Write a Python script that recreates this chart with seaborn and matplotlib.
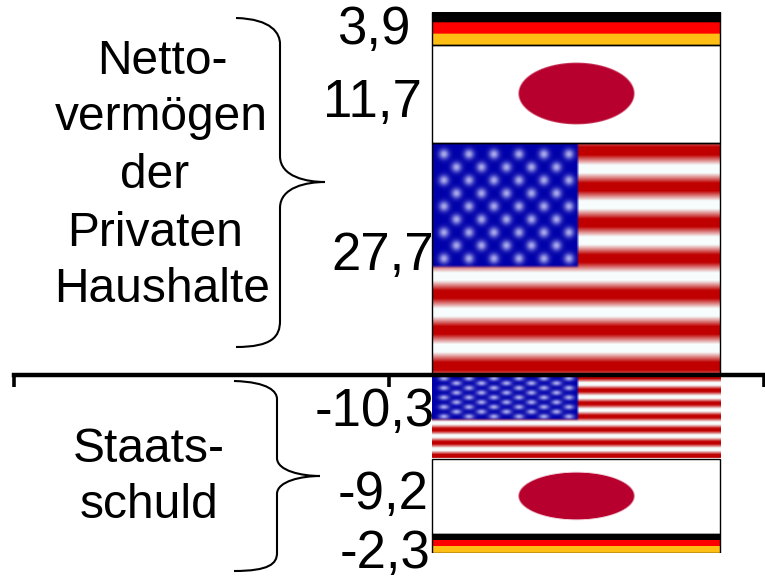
import numpy as np
import matplotlib
matplotlib.use("Agg")
import matplotlib.pyplot as plt
from matplotlib.path import Path
from matplotlib.patches import PathPatch
import seaborn as sns

# --- data ---
slots = ["", "Flaggen"]
assets_countries = ["USA", "Japan", "Deutschland"]   # stacked from the zero line upwards
assets_values = [27.7, 11.7, 3.9]
debt_countries = ["USA", "Japan", "Deutschland"]     # stacked from the zero line downwards
debt_values = [-10.3, -9.2, -2.3]
assets_labels = ["27,7", "11,7", "3,9"]
debt_labels = ["-10,3", "-9,2", "-2,3"]
assets_title = ["Netto-", "vermögen", "der", "Privaten", "Haushalte"]
debt_title = ["Staats-", "schuld"]

# --- style ---
W, H = 765, 578
sns.set_theme(style="white")
plt.rcParams["font.family"] = ["Liberation Sans", "DejaVu Sans"]
FS = 38
TITLE_FS = 34.5
RED, BLUE, STAR = np.array([192, 0, 0]) / 255, np.array([0, 0, 170]) / 255, np.array([170, 170, 235]) / 255
WHITE = np.array([247, 252, 252]) / 255


def flag_usa(h, w, soft, star_sigma):
    y, x = np.mgrid[0:h, 0:w]
    t, u = (y + .5) / h, (x + .5) / w
    pos = t * 13
    dist = np.abs(pos - np.round(pos))
    edge = np.clip(dist * h / 13 / soft, 0, 1)
    is_red = np.floor(pos).astype(int) % 2 == 0
    mix = np.where(is_red, .5 + .5 * edge, .5 - .5 * edge)[..., None]
    img = mix * RED + (1 - mix) * WHITE
    cw, ch = 0.505, 0.535
    glow = np.zeros((h, w))
    for r in range(9):
        cols = 6 if r % 2 == 0 else 5
        for c in range(cols):
            cx = 0.0415 + 0.0865 * c + (0.0433 if r % 2 else 0)
            cy = 0.052 + 0.056 * r
            glow += np.exp(-(((u - cx) * w / 5.0) ** 2 + ((t - cy) * h / star_sigma) ** 2))
    glow = np.clip(glow, 0, 1)[..., None]
    canton = BLUE * (1 - glow) + STAR * glow
    m = (np.clip((cw - u) * w / 3 + .5, 0, 1) * np.clip((ch - t) * h / 3 + .5, 0, 1))[..., None]
    return m * canton + (1 - m) * img


def flag_japan(h, w, ry):
    y, x = np.mgrid[0:h, 0:w]
    d = np.sqrt((((x + .5) - w / 2) / (.2 * w)) ** 2 + (((y + .5) - h / 2) / (ry * h)) ** 2)
    m = np.clip((1 - d) * 30 + .5, 0, 1)[..., None]
    return m * (np.array([184, 0, 46]) / 255) + (1 - m) * np.ones(3)


def flag_germany(h, w):
    img = np.zeros((h, w, 3))
    img[h // 3:2 * h // 3] = [1, 0, 0]
    img[2 * h // 3:] = np.array([255, 190, 20]) / 255
    return img


def make_flag(name, h, w, lower):
    if name == "USA":
        return flag_usa(h, w, 2.0 if lower else 5.0, 2.6 if lower else 5.0)
    if name == "Japan":
        return flag_japan(h, w, .31)
    return flag_germany(h, w)


fig = plt.figure(figsize=(W / 100, H / 100), dpi=100)
fig.patch.set_facecolor("white")


def px_axes(x0, y0, x1, y1):
    return fig.add_axes([x0 / W, 1 - y1 / H, (x1 - x0) / W, (y1 - y0) / H])


ax_top = px_axes(14, 12, 763.5, 375)
ax_bot = px_axes(14, 375, 763.5, 553)


def stack(ax, countries, values, labels, offsets, lower):
    cum = 0.0
    for name, v, lab, off in zip(countries, values, labels, offsets):
        n = len(ax.patches)
        sns.barplot(x=[slots[1]], y=[v], order=slots, bottom=cum, width=0.77,
                    color="#888888", ax=ax, saturation=1, errorbar=None)
        p = ax.patches[n]
        bb_x0, bb_w = p.get_x(), p.get_width()
        y0, y1 = sorted([cum, cum + v])
        hpx = max(8, int(abs(v) * 8.4))
        ax.imshow(make_flag(name, hpx, 289, lower),
                  extent=(bb_x0, bb_x0 + bb_w, y0, y1), origin="upper",
                  aspect="auto", interpolation="bilinear", zorder=2)
        p.set_facecolor("none")
        p.set_edgecolor("black" if not (lower and name == "USA") else "none")
        p.set_linewidth(1.0)
        p.set_zorder(3)
        ax.annotate(lab, (bb_x0, cum + v / 2), xytext=off, textcoords="offset pixels",
                    ha="right", va="center", fontsize=FS, color="black")
        cum += v


stack(ax_top, assets_countries, assets_values, assets_labels,
      [(2, 3), (-10, -9), (-21, -2)], False)
stack(ax_bot, debt_countries, debt_values, debt_labels,
      [(3, 5), (-3, 2), (-1, -10)], True)

ax_top.set_xlim(-.5, 1.5)
ax_top.set_ylim(0, sum(assets_values))
ax_bot.set_xlim(-.5, 1.5)
ax_bot.set_ylim(sum(debt_values), 0)

for ax in (ax_top, ax_bot):
    ax.set_xlabel("")
    ax.set_ylabel("")
    ax.set_yticks([])
    ax.patch.set_alpha(0)
    for s in ax.spines.values():
        s.set_visible(False)
ax_top.set_xticks([])

ax_bot.spines["top"].set_visible(True)
ax_bot.spines["top"].set_linewidth(3.2)
ax_bot.spines["top"].set_color("black")
ax_bot.spines["top"].set_zorder(6)
ax_bot.set_xticks([-.5, .5, 1.5])
ax_bot.set_xticklabels([])
ax_bot.tick_params(axis="x", which="both", bottom=False, top=True, direction="in",
                   length=8.5, width=2.6, color="black", labeltop=False, labelbottom=False)

# overlay in pixel coordinates: titles and braces
ov = fig.add_axes([0, 0, 1, 1])
ov.set_xlim(0, W)
ov.set_ylim(H, 0)
ov.axis("off")
ov.patch.set_alpha(0)

for txt, x, y in zip(assets_title, [162, 161, 155, 155, 162], [61, 118, 175, 233, 290]):
    ov.text(x, y, txt, ha="center", va="center", fontsize=TITLE_FS, color="black")
for txt, x, y in zip(debt_title, [149, 149], [449, 506]):
    ov.text(x, y, txt, ha="center", va="center", fontsize=TITLE_FS, color="black")


def brace(x0, xm, xt, y0, ym, y3, r):
    verts = [(x0, y0), (xm - 8, y0 + 1), (xm, y0 + r * .6), (xm, y0 + r),
             (xm, ym - r),
             (xm, ym - 5), (xt - 18, ym), (xt, ym),
             (xt - 18, ym), (xm, ym + 5), (xm, ym + r),
             (xm, y3 - r),
             (xm, y3 - r * .4), (xm - 8, y3), (x0, y3)]
    codes = [Path.MOVETO, Path.CURVE4, Path.CURVE4, Path.CURVE4,
             Path.LINETO,
             Path.CURVE4, Path.CURVE4, Path.CURVE4,
             Path.CURVE4, Path.CURVE4, Path.CURVE4,
             Path.LINETO,
             Path.CURVE4, Path.CURVE4, Path.CURVE4]
    ov.add_patch(PathPatch(Path(verts, codes), fill=False, edgecolor="black", lw=1.5))


brace(236, 280, 325, 18, 182, 347, 26)
brace(234, 277, 320, 381, 476, 571, 18)

fig.savefig("out.png", dpi=100)
